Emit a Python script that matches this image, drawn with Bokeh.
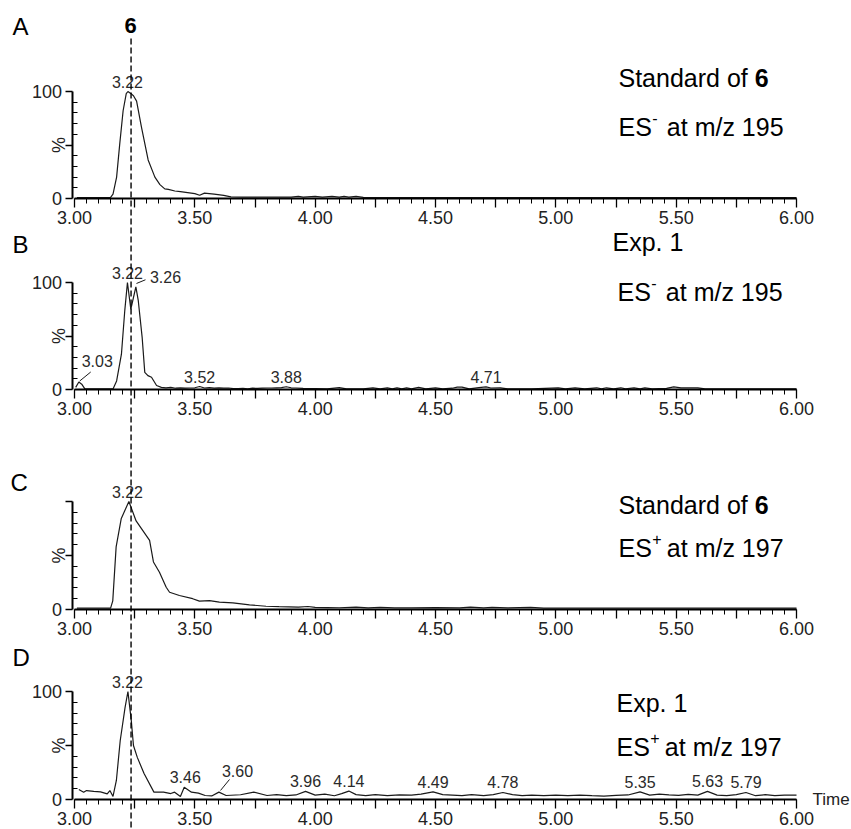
import numpy as np
from bokeh.plotting import figure
from bokeh.models import Range1d, LinearAxis, FixedTicker, CustomJSTickFormatter, Grid
from bokeh.core.properties import value
from bokeh.embed import file_html
from bokeh.resources import INLINE

# ---------------- data (retention time in min, relative intensity in %) ----------------
a_t = [3.01, 3.05, 3.10, 3.15, 3.16, 3.175, 3.188, 3.202, 3.215, 3.222,
       3.235, 3.245, 3.258, 3.278, 3.306, 3.334, 3.355, 3.375, 3.39, 3.417,
       3.44, 3.47, 3.50, 3.52, 3.54, 3.56, 3.58, 3.62, 3.65, 3.70,
       3.80, 3.90, 3.93, 3.95, 4.00, 4.03, 4.07, 4.10, 4.12, 4.14,
       4.17, 4.20, 4.30, 4.50, 5.00, 5.50, 6.00]
a_i = [0.8, 0.8, 0.8, 1.0, 4, 20, 51, 82, 98, 100,
       98, 96, 91, 67, 36, 20, 13, 9, 8.5, 7,
       6.5, 5.5, 4.5, 3, 5, 4.5, 4, 3, 1.5, 1.3,
       1.3, 1.3, 2, 1.3, 2, 1.3, 2, 1.3, 2, 1.3,
       2, 1, 0.8, 0.8, 0.8, 0.8, 0.8]

b_t = [3.005, 3.018, 3.03, 3.043, 3.08, 3.12, 3.16, 3.175, 3.195, 3.209,
       3.22, 3.234, 3.255, 3.265, 3.281, 3.292, 3.305, 3.32, 3.341, 3.361,
       3.38, 3.40, 3.42, 3.44, 3.46, 3.48, 3.50, 3.52, 3.54, 3.56,
       3.58, 3.60, 3.62, 3.64, 3.66, 3.68, 3.70, 3.72, 3.74, 3.76,
       3.78, 3.80, 3.82, 3.84, 3.86, 3.88, 3.90, 3.92, 3.95, 4.00,
       4.05, 4.10, 4.13, 4.20, 4.24, 4.27, 4.30, 4.32, 4.34, 4.36,
       4.38, 4.40, 4.43, 4.46, 4.50, 4.53, 4.57, 4.59, 4.61, 4.64,
       4.68, 4.71, 4.73, 4.77, 4.80, 4.90, 5.01, 5.04, 5.08, 5.12,
       5.17, 5.19, 5.21, 5.24, 5.27, 5.29, 5.325, 5.35, 5.37, 5.40,
       5.46, 5.49, 5.52, 5.56, 5.59, 5.62, 5.70, 5.80, 5.90, 6.00]
b_i = [2, 7, 5, 0.6, 0.5, 0.5, 0.5, 8, 33, 74,
       100, 75, 96, 83, 49, 16, 13, 11.5, 3.7, 2,
       1.5, 2, 1.2, 1.5, 1.2, 1.4, 1.6, 2.8, 1.4, 1.8,
       1.2, 1.6, 1.2, 1.4, 0.8, 0.8, 1.0, 0.6, 1.2, 1.0,
       1.2, 1.4, 1.4, 1.6, 1.8, 2.6, 1.6, 1.4, 1.0, 0.8,
       0.6, 1.8, 0.6, 0.6, 1.6, 0.6, 1.5, 0.6, 1.5, 0.6,
       1.5, 0.6, 2.0, 0.6, 1.6, 0.6, 1.2, 2.2, 2.2, 0.6,
       1.8, 2.5, 1.4, 1.6, 0.6, 0.6, 1.5, 0.6, 1.5, 0.6,
       1.6, 0.6, 1.6, 0.6, 1.6, 0.6, 1.5, 0.6, 1.5, 0.6,
       1.0, 2.5, 1.5, 1.6, 1.6, 0.6, 0.6, 0.6, 0.6, 0.6]

c_t = [3.01, 3.05, 3.10, 3.15, 3.159, 3.173, 3.194, 3.212, 3.226, 3.256,
       3.284, 3.312, 3.328, 3.353, 3.381, 3.395, 3.436, 3.491, 3.519, 3.561,
       3.602, 3.658, 3.727, 3.796, 3.85, 3.93, 3.97, 4.00, 4.05, 4.10,
       4.17, 4.22, 4.27, 4.33, 4.40, 4.50, 4.60, 4.645, 4.70, 4.735,
       4.80, 4.895, 4.95, 5.10, 5.30, 5.50, 5.70, 6.00]
c_i = [1.2, 1.2, 1.2, 1.2, 8, 58, 84, 93, 100, 82,
       73, 64, 44, 34.5, 20.6, 16, 13, 10, 7.7, 8.3,
       6.8, 6.2, 4.3, 3.0, 2.6, 2.2, 2.8, 2.0, 1.8, 1.6,
       2.2, 1.5, 2.0, 1.5, 1.5, 1.8, 1.5, 2.2, 1.5, 2.0,
       1.5, 2.0, 1.3, 1.2, 1.2, 1.2, 1.2, 1.2]

d_t = [3.018, 3.038, 3.05, 3.08, 3.108, 3.136, 3.147, 3.16, 3.174, 3.19,
       3.21, 3.222, 3.236, 3.245, 3.261, 3.289, 3.33, 3.37, 3.40, 3.416,
       3.44, 3.456, 3.486, 3.515, 3.543, 3.57, 3.60, 3.63, 3.69, 3.745,
       3.80, 3.84, 3.88, 3.92, 3.96, 4.00, 4.04, 4.08, 4.11, 4.14,
       4.17, 4.21, 4.25, 4.30, 4.35, 4.40, 4.44, 4.49, 4.53, 4.57,
       4.61, 4.65, 4.70, 4.74, 4.78, 4.82, 4.86, 4.90, 4.95, 5.00,
       5.05, 5.10, 5.15, 5.20, 5.25, 5.30, 5.35, 5.39, 5.43, 5.47,
       5.51, 5.55, 5.59, 5.63, 5.67, 5.71, 5.75, 5.79, 5.83, 5.87,
       5.91, 5.95, 6.00]
d_i = [9.3, 6.8, 8.3, 7.5, 7, 5.2, 8.3, 2.8, 17.6, 54.6,
       85, 100, 73, 50, 39, 24, 6.8, 6.8, 5.5, 6.8,
       2.8, 11.4, 6.8, 5.9, 3.7, 3.3, 6.8, 3.7, 4.4, 6.8,
       3.7, 4.5, 3.5, 4.2, 7.5, 4.0, 5.0, 3.5, 5.5, 7.8,
       4.5, 3.5, 4.5, 3.5, 4.2, 4.0, 5.0, 7.0, 4.5, 4.0,
       3.5, 4.5, 3.5, 4.5, 6.5, 4.5, 3.5, 4.0, 3.5, 4.0,
       3.5, 4.0, 3.5, 3.2, 3.8, 4.2, 7.0, 4.0, 5.0, 4.2,
       3.8, 4.8, 4.0, 7.5, 4.0, 3.5, 4.5, 6.5, 3.5, 4.5,
       3.5, 4.0, 4.0]

a_peaks = ["3.22"]
a_peak_h = [100]
b_peaks = ["3.03", "3.22", "3.26", "3.52", "3.88", "4.71"]
b_peak_h = [7, 100, 96, 2.8, 2.6, 2.5]
c_peaks = ["3.22"]
c_peak_h = [100]
d_peaks = ["3.22", "3.46", "3.60", "3.96", "4.14", "4.49", "4.78", "5.35", "5.63", "5.79"]
d_peak_h = [100, 11.4, 6.8, 7.5, 7.8, 7.0, 6.5, 7.0, 7.5, 6.5]

compound_rt = 3.235          # dashed marker line for compound 6
x_major = np.round(np.arange(3.0, 6.0001, 0.25), 2).tolist()
x_minor = np.round(np.arange(3.0, 6.0001, 0.05), 2).tolist()
y_major = [0, 50, 100]
y_minor = [10, 20, 30, 40, 60, 70, 80, 90]

# ---------------- layout ----------------
W, H = 851, 829
X0_PX, X6_PX = 74, 796
SPX = (X6_PX - X0_PX) / 3.0
ROWS = {"A": (198, 91), "B": (389, 282), "C": (609, 501), "D": (799, 691)}
FONT = value("Liberation Sans")
INK = "#1a1a1a"

p = figure(width=W, height=H, output_backend="svg", toolbar_location=None,
           x_axis_location=None, y_axis_location=None, min_border=0,
           x_range=Range1d(3 - X0_PX / SPX, 6 + (W - X6_PX) / SPX),
           y_range=Range1d(H, 0), outline_line_color=None, title=None)
p.background_fill_color = "white"
p.border_fill_color = "white"
for g in p.select(type=Grid):
    g.visible = False

yr = {}
for name, (r0, r100) in ROWS.items():
    k = (r0 - r100) / 100.0
    yr[name] = Range1d(-(H - r0) / k, r0 / k)
p.extra_y_ranges = yr
p.extra_x_ranges = {"px": Range1d(0, W)}

XFMT = "const r = Math.round(tick*2); return Math.abs(tick*2 - r) < 1e-6 ? tick.toFixed(2) : '';"


def panel(name, t, inten, labels, heights, show100=True, leaders=None):
    leaders = leaders or {}
    r0, r100 = ROWS[name]
    k = (r0 - r100) / 100.0
    p.line(t, inten, y_range_name=name, line_color=INK, line_width=1.2)

    xa = LinearAxis(y_range_name=name, fixed_location=0, bounds=(3, 6),
                    ticker=FixedTicker(ticks=x_major, minor_ticks=x_minor),
                    formatter=CustomJSTickFormatter(code=XFMT))
    xa.axis_line_width = 2
    xa.axis_line_color = "black"
    xa.major_tick_line_width = 1.3
    xa.minor_tick_line_width = 1
    xa.major_tick_out = 9
    xa.major_tick_in = 0
    xa.minor_tick_out = 5
    xa.minor_tick_in = 0
    xa.major_label_standoff = 3
    xa.major_label_text_font = "Liberation Sans"
    xa.major_label_text_font_size = "18px"
    xa.major_label_text_color = "#222222"
    p.add_layout(xa, "below")

    ycode = "return (tick == 0 || tick == 100) ? String(tick) : '';" if show100 else \
        "return tick == 0 ? '0' : '';"
    ya = LinearAxis(y_range_name=name, fixed_location=2.99, bounds=(0, 100),
                    ticker=FixedTicker(ticks=y_major, minor_ticks=y_minor),
                    formatter=CustomJSTickFormatter(code=ycode))
    ya.axis_line_width = 2
    ya.axis_line_color = "black"
    ya.major_tick_line_width = 1.3
    ya.minor_tick_line_width = 1
    ya.major_tick_out = 7
    ya.major_tick_in = 0
    ya.minor_tick_out = 0
    ya.minor_tick_in = 5
    ya.major_label_standoff = 3
    ya.major_label_text_font = "Liberation Sans"
    ya.major_label_text_font_size = "18px"
    ya.major_label_text_color = "#222222"
    p.add_layout(ya, "left")

    p.text(x=[3.0], y=[50], text=["%"], y_range_name=name, x_offset=-16,
           angle=np.pi / 2, text_align="center", text_baseline="middle",
           text_font=FONT, text_font_size="18px", text_color="#222222")

    plain = [i for i, lab in enumerate(labels) if lab not in leaders]
    p.text(x=[float(labels[i]) for i in plain], y=[heights[i] for i in plain],
           text=[labels[i] for i in plain], y_range_name=name, y_offset=-4,
           text_align="center", text_baseline="bottom",
           text_font=FONT, text_font_size="16px", text_color="#2a2a2a")
    for lab, (dx, up, (ax, au), (bx, bu)) in leaders.items():
        i = labels.index(lab)
        x, y = float(lab), heights[i]
        p.text(x=[x + dx / SPX], y=[y + up / k], text=[lab], y_range_name=name,
               text_align="center", text_baseline="bottom",
               text_font=FONT, text_font_size="16px", text_color="#2a2a2a")
        p.segment(x0=[x + ax / SPX], y0=[y + au / k], x1=[x + bx / SPX], y1=[y + bu / k],
                  y_range_name=name, line_color=INK, line_width=1)


panel("A", a_t, a_i, a_peaks, a_peak_h)
panel("B", b_t, b_i, b_peaks, b_peak_h,
      leaders={"3.03": (15.5, 15.5, (-2, 1), (9, 10)),
               "3.26": (28.4, 3.3, (-0.6, 3.3), (8.4, 7))})
panel("C", c_t, c_i, c_peaks, c_peak_h, show100=False)
panel("D", d_t, d_i, d_peaks, d_peak_h,
      leaders={"3.60": (18.6, 14.7, (1.6, 1.7), (10.6, 12.7))})

# dashed marker through all panels
p.segment(x0=[compound_rt], y0=[38], x1=[compound_rt], y1=[H], line_color="black",
          line_width=1.4, line_dash="6 3")

# "Time" axis caption
p.text(x=[6.0], y=[0], text=["Time"], y_range_name="D", x_offset=16,
       text_align="left", text_baseline="middle", text_font=FONT,
       text_font_size="17px", text_color="#222222")

# panel letters and compound number
p.text(x=[12, 12, 10, 12], y=[26, 243.5, 481.7, 656.7], text=["A", "B", "C", "D"],
       x_range_name="px", text_align="left", text_baseline="middle",
       text_font=FONT, text_font_size="24px", text_color="black")
p.text(x=[130], y=[25], text=["6"], x_range_name="px", text_align="center",
       text_baseline="middle", text_font=FONT, text_font_size="22px",
       text_font_style="bold", text_color="black")

# right-hand annotations
BIG = 25
W_STD = 5.448 * BIG    # width of "Standard of "
W_ES = 1.334 * BIG     # width of "ES"


def std_line(x, y):
    p.text(x=[x], y=[y], text=["Standard of "], x_range_name="px", text_align="left",
           text_baseline="middle", text_font=FONT, text_font_size=f"{BIG}px", text_color="black")
    p.text(x=[x + W_STD], y=[y], text=["6"], x_range_name="px", text_align="left",
           text_baseline="middle", text_font=FONT, text_font_size=f"{BIG}px",
           text_font_style="bold", text_color="black")


def es_line(x, y, sign, mz):
    p.text(x=[x], y=[y], text=["ES"], x_range_name="px", text_align="left",
           text_baseline="middle", text_font=FONT, text_font_size=f"{BIG}px", text_color="black")
    p.text(x=[x + W_ES + 0.5], y=[y - 9], text=[sign], x_range_name="px", text_align="left",
           text_baseline="middle", text_font=FONT, text_font_size="16px", text_color="black")
    p.text(x=[x + W_ES + 15], y=[y], text=[f"at m/z {mz}"], x_range_name="px",
           text_align="left", text_baseline="middle", text_font=FONT,
           text_font_size=f"{BIG}px", text_color="black")


def exp_line(x, y):
    p.text(x=[x], y=[y], text=["Exp. 1"], x_range_name="px", text_align="left",
           text_baseline="middle", text_font=FONT, text_font_size=f"{BIG}px", text_color="black")


std_line(618, 77)
es_line(618, 126, "-", 195)
exp_line(612, 241)
es_line(617, 291, "-", 195)
std_line(618, 504)
es_line(618, 547.5, "+", 197)
exp_line(616, 702)
es_line(616, 746, "+", 197)

open("out.html", "w").write(file_html(p, INLINE))
